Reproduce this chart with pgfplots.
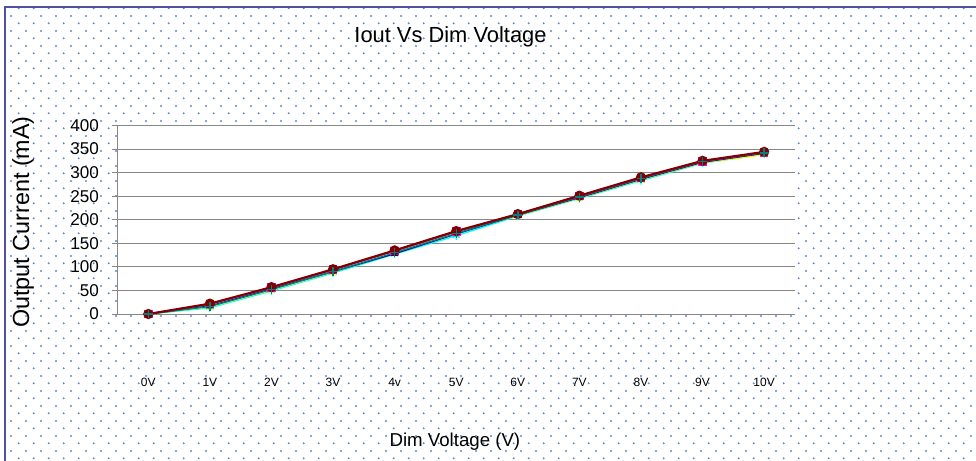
\documentclass[border=0pt]{standalone}
\usepackage{pgfplots}
\pgfplotsset{compat=1.18}
\usepackage{fontspec}
\setmainfont{Liberation Sans}
\usetikzlibrary{patterns}
\pgfdeclarepatternformonly{xdots}{\pgfpointorigin}{\pgfpoint{11.5pt}{11.5pt}}{\pgfpoint{11.5pt}{11.5pt}}{%
  \pgfpathcircle{\pgfpoint{2.875pt}{2.875pt}}{0.85pt}%
  \pgfpathcircle{\pgfpoint{8.625pt}{8.625pt}}{0.85pt}%
  \pgfusepath{fill}}
\definecolor{dotblue}{RGB}{95,135,205}
\definecolor{bordercol}{RGB}{80,80,160}
\definecolor{gridgray}{RGB}{135,135,135}
\definecolor{sMaroon}{RGB}{128,0,0}
\definecolor{sMagenta}{RGB}{255,0,255}
\definecolor{sNavy}{RGB}{0,0,128}
\definecolor{sYellow}{RGB}{255,255,0}
\definecolor{sCyan}{RGB}{0,255,255}
\definecolor{sTeal}{RGB}{0,128,128}
\definecolor{sPurple}{RGB}{128,0,128}

\pgfplotstableread{
x s1 s2 s3 s4 s5 s6
0 0 0 0 0 0 0
1 22 21 17 15 13 16
2 57 56 53 51 49 52
3 95 94 90 89 87 90
4 135 134 128 130 127 130
5 176 175 170 172 166 171
6 212 212 210 209 208 210
7 251 250 247 246 245 248
8 290 289 286 285 283 287
9 325 324 322 321 320 323
10 344 343 341 338 339 342
}\datatable

\begin{document}
\begin{tikzpicture}
\path[use as bounding box] (0pt,0pt) rectangle (732pt,345.75pt);
\fill[white] (0pt,0pt) rectangle (732pt,345.75pt);
\fill[pattern=xdots, pattern color=dotblue] (3.4pt,0pt) rectangle (732pt,340.5pt);
\draw[bordercol, line width=1.5pt] (3.4pt,0pt) -- (3.4pt,340.5pt) -- (732pt,340.5pt);
\begin{axis}[
  at={(88.125pt,110.25pt)}, anchor=south west,
  scale only axis, width=508.1pt, height=141.4pt,
  xmin=-0.5, xmax=10.5, ymin=0, ymax=400,
  xtick={0,...,10},
  xticklabels={0V,1V,2V,3V,4v,5V,6V,7V,8V,9V,10V},
  ytick={0,50,...,400},
  axis background/.style={fill=white},
  axis x line*=bottom, axis y line*=left,
  axis line style={draw=gridgray, line width=0.75pt, -},
  ymajorgrids, grid style={gridgray, line width=0.75pt},
  tick align=outside, major tick length=4.5pt,
  ytick style={gridgray, line width=0.75pt},
  xtick style={draw=none},
  /pgf/number format/assume math mode=true,
  yticklabel style={font=\fontsize{12.8}{14}\selectfont, xshift=-6pt},
  xticklabel style={font=\fontsize{9}{10}\selectfont, yshift=-40pt},
  title={Iout Vs Dim Voltage},
  title style={font=\fontsize{16.4}{19}\selectfont, at={(axis description cs:0.4915,1.397)}, anchor=base, inner sep=0pt},
  xlabel={Dim Voltage (V)},
  xlabel style={font=\fontsize{14}{16}\selectfont, at={(axis description cs:0.498,-0.679)}, anchor=center},
  ylabel={Output Current (mA)},
  ylabel style={font=\fontsize{17.5}{20}\selectfont, at={(axis description cs:-0.1395,0.488)}, anchor=center, rotate=0},
  clip=false,
  mark size=3pt,
]
\addplot[sCyan, line width=1pt, mark=asterisk, mark options={solid, line width=0.9pt}] table[x=x,y=s5] {\datatable};
\addplot[sYellow, line width=1pt, mark=x, mark options={solid, line width=1pt}] table[x=x,y=s4] {\datatable};
\addplot[sNavy, line width=1pt, mark=triangle*, mark options={solid, fill=sNavy, scale=0.8}] table[x=x,y=s3] {\datatable};
\addplot[sTeal, line width=1pt, mark=none] table[x=x,y=s6] {\datatable};
\addplot[sPurple, line width=1pt, mark=none] table[x=x,y=s2] {\datatable};
\addplot[sMagenta, line width=1pt, mark=square*, mark options={solid, fill=sMagenta, scale=0.9}] table[x=x,y=s2] {\datatable};
\addplot[sMaroon, line width=1.6pt, mark=*, mark options={solid, fill=sMaroon, draw=sMaroon}] table[x=x,y=s1] {\datatable};
\addplot[draw=none, mark=+, mark options={sTeal, line width=1.1pt, scale=1.1}] table[x=x,y=s6] {\datatable};
\end{axis}
\end{tikzpicture}
\end{document}
